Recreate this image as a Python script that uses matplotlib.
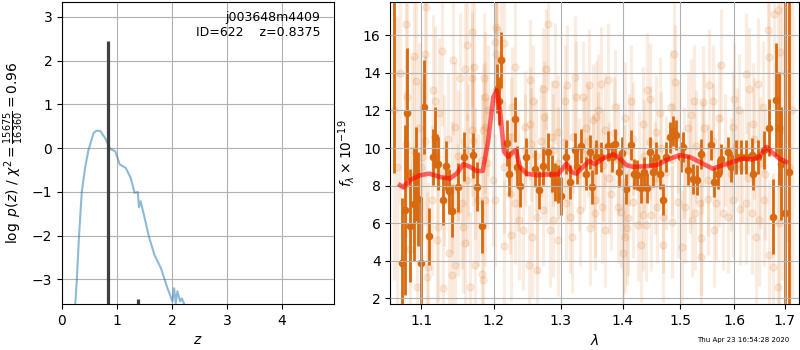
import matplotlib
matplotlib.use("Agg")
import matplotlib.pyplot as plt
from matplotlib.ticker import NullLocator

# p(z) curve
z_grid = [0.20, 0.24, 0.27, 0.31, 0.36, 0.42, 0.48, 0.575, 0.63, 0.70, 0.79, 0.88, 0.97,
          1.05, 1.16, 1.25, 1.32, 1.38, 1.40, 1.43, 1.49, 1.58, 1.68, 1.80, 1.92, 2.01,
          2.04, 2.07, 2.10, 2.15, 2.18, 2.23, 2.26]
logpz = [-4.5, -3.59, -3.0, -2.0, -1.0, -0.45, -0.05, 0.35, 0.40, 0.39, 0.22, -0.02, -0.07,
         -0.37, -0.45, -0.68, -1.02, -1.0, -1.35, -1.21, -1.52, -2.01, -2.43, -2.74, -3.2, -3.5,
         -3.2, -3.54, -3.27, -3.5, -3.43, -3.58, -3.8]

# stems in the p(z) panel
stem_z = [0.8375, 1.39]
stem_top = [2.45, -3.45]

# binned spectrum (dark points)
bin_wave = [1.0647, 1.0753, 1.0788, 1.0817, 1.0856, 1.0900, 1.0931, 1.0961, 1.0996, 1.1040,
            1.1103, 1.1152, 1.1183, 1.1227, 1.1294, 1.1330, 1.1371, 1.1408, 1.1490, 1.1577,
            1.1706, 1.1758, 1.1833, 1.2045, 1.2074, 1.2108, 1.2190, 1.2219, 1.2302, 1.2336,
            1.2386, 1.2476, 1.2603, 1.2668, 1.2730, 1.2806, 1.2858, 1.2909, 1.2960, 1.3006,
            1.3079, 1.3142, 1.3221, 1.3258, 1.3327, 1.3396, 1.3460, 1.3497, 1.3568, 1.3650,
            1.3758, 1.3824, 1.3880, 1.3940, 1.3997, 1.4064, 1.4136, 1.4192, 1.4250, 1.4306,
            1.4363, 1.4422, 1.4461, 1.4519, 1.4578, 1.4640, 1.4693, 1.4753, 1.4811, 1.4877,
            1.4930, 1.5007, 1.5048, 1.5138, 1.5229, 1.5309, 1.5383, 1.5568, 1.5630, 1.5692,
            1.5755, 1.5880, 1.5944, 1.6040, 1.6136, 1.6232, 1.6350, 1.6376, 1.6460, 1.6592,
            1.6692, 1.6758, 1.6826, 1.6893, 1.6927, 1.7015, 1.7096]
bin_flux = [20.0, 3.86, 6.70, 11.84, 5.86, 7.00, 8.60, 7.30, 3.90, 12.20,
            5.30, 9.53, 10.56, 9.17, 7.22, 9.05, 7.70, 6.64, 7.90, 9.53,
            9.62, 7.93, 5.84, 13.16, 12.50, 14.70, 10.27, 8.64, 11.53, 9.00,
            7.97, 9.53, 8.90, 7.76, 9.05, 9.80, 8.64, 8.20, 8.10, 7.44,
            9.53, 8.20, 9.88, 9.00, 10.11, 8.64, 9.80, 7.93, 9.53, 9.53,
            10.11, 9.53, 10.20, 8.73, 9.76, 7.81, 10.15, 8.64, 8.55, 7.85,
            8.73, 7.85, 9.80, 8.73, 9.53, 8.60, 7.26, 9.53, 10.56, 10.91,
            10.68, 9.53, 10.06, 8.82, 8.34, 8.29, 9.70, 10.15, 8.20, 8.64,
            9.44, 9.80, 9.00, 9.53, 9.53, 9.53, 9.62, 8.64, 9.53, 9.88,
            11.09, 6.34, 12.58, 11.04, 9.17, 6.52, 8.70]
bin_err = [11.35, 3.5, 4.5, 3.5, 3.0, 3.0, 2.5, 2.5, 3.5, 2.5,
           1.5, 1.5, 1.6, 1.4, 1.3, 1.3, 1.2, 1.4, 1.3, 1.3,
           1.2, 1.3, 1.4, 1.3, 1.3, 1.5, 1.2, 1.2, 1.2, 1.1,
           1.1, 1.0, 1.0, 1.0, 1.0, 1.0, 1.0, 1.0, 1.0, 1.0,
           0.9, 0.9, 0.9, 0.9, 0.9, 0.9, 0.9, 0.9, 0.9, 0.8,
           0.8, 0.8, 0.8, 0.8, 0.8, 0.8, 0.8, 0.8, 0.8, 0.8,
           0.8, 0.8, 0.8, 0.8, 0.8, 0.8, 0.8, 0.8, 0.8, 0.8,
           0.8, 0.8, 0.8, 0.8, 0.8, 0.8, 0.8, 0.8, 0.8, 0.8,
           0.8, 0.8, 0.8, 0.9, 0.9, 0.9, 0.9, 0.9, 0.9, 1.0,
           1.5, 2.0, 3.0, 3.0, 3.0, 12.0, 12.0]

# unbinned spectrum (faint points)
raw_wave = [1.0640, 1.0680, 1.0720, 1.0797, 1.1063, 1.0904, 1.0935, 1.1050, 1.1272, 1.1430,
            1.1623, 1.1692, 1.1720, 1.1591, 1.1522, 1.1695, 1.1872, 1.1862, 1.1152, 1.1183,
            1.0810, 1.0974, 1.1045, 1.1453, 1.1683, 1.1848, 1.1918, 1.1362, 1.0874, 1.1005,
            1.1637, 1.1614, 1.1729, 1.1499, 1.1227, 1.1568, 1.1596, 1.1366, 1.1408, 1.1094,
            1.1072, 1.1458, 1.1734, 1.1823, 1.1845, 1.0940, 1.1294, 1.1660, 1.0852, 1.0788,
            1.1205, 1.1413, 1.1545, 1.1777, 1.1868, 1.1138, 1.1828, 1.1878, 1.1232, 1.0800,
            1.1000, 1.1300, 1.1500, 1.1700, 1.1900,
            1.2025, 1.2045, 1.2012, 1.2144, 1.2035, 1.2108, 1.2302, 1.2806, 1.2528, 1.2730,
            1.2909, 1.2780, 1.3100, 1.3221, 1.3449, 1.3064, 1.3248, 1.3353, 1.2256, 1.2578,
            1.2453, 1.2535, 1.2737, 1.2858, 1.2960, 1.3407, 1.3514, 1.3568, 1.1986, 1.2018,
            1.2232, 1.2306, 1.2369, 1.2429, 1.2553, 1.2629, 1.2723, 1.2831, 1.2965, 1.3169,
            1.3142, 1.3300, 1.3460, 1.3541, 1.2150, 1.2242, 1.2520, 1.2635, 1.2882, 1.3090,
            1.2150, 1.2250, 1.2350, 1.2450, 1.2550, 1.2620, 1.2700, 1.2780, 1.2880, 1.2950,
            1.3050, 1.3120, 1.3200, 1.3280, 1.3360, 1.3430, 1.3520,
            1.3758, 1.3650, 1.4415, 1.4882, 1.4900, 1.4148, 1.4461, 1.4841, 1.3870, 1.5260,
            1.5412, 1.4036, 1.4346, 1.4635, 1.4578, 1.5138, 1.5200, 1.3704, 1.3597, 1.3548,
            1.3656, 1.3814, 1.3923, 1.3980, 1.4091, 1.4175, 1.4260, 1.4340, 1.4405, 1.4490,
            1.4585, 1.4693, 1.4700, 1.4847, 1.4959, 1.5030, 1.5079, 1.5206, 1.5266, 1.5371,
            1.3710, 1.4081, 1.4042, 1.4318, 1.4008,
            1.3600, 1.3680, 1.3770, 1.3850, 1.3920, 1.4020, 1.4100, 1.4180, 1.4280, 1.4370,
            1.4470, 1.4560, 1.4660, 1.4750, 1.4850, 1.4960, 1.5070, 1.5180, 1.5280, 1.5400,
            1.5755, 1.6232, 1.6658, 1.6859, 1.6792, 1.6913, 1.6692, 1.5536, 1.6008, 1.6297,
            1.6460, 1.5598, 1.6559, 1.6104, 1.5723, 1.5976, 1.6362, 1.5444, 1.5352, 1.5505,
            1.5660, 1.5786, 1.5880, 1.5982, 1.6110, 1.6238, 1.6356, 1.6493, 1.6592, 1.5383,
            1.5630, 1.6427, 1.6678, 1.6758, 1.6873, 1.6893,
            1.5500, 1.5610, 1.5720, 1.5830, 1.5940, 1.6050, 1.6160, 1.6270, 1.6380, 1.6500,
            1.6600, 1.6950, 1.7020, 1.7080, 1.7150]
raw_flux = [12.0, 9.0, 14.0, 16.6, 17.5, 14.9, 13.55, 15.0, 15.15, 14.67,
            15.47, 16.2, 14.3, 14.2, 13.7, 13.75, 12.7, 13.7, 13.07, 12.5,
            12.7, 11.07, 10.4, 11.1, 10.95, 10.95, 12.0, 10.5, 9.88, 9.53,
            9.88, 8.29, 8.64, 6.7, 5.8, 5.8, 4.92, 4.39, 3.23, 3.68,
            3.14, 3.77, 3.77, 3.32, 2.97, 2.6, 2.53, 2.6, 4.65, 8.02,
            5.1, 7.93, 7.05, 7.22, 7.22, 7.22, 9.35, 11.1, 11.84, 10.2,
            9.0, 8.8, 9.6, 10.4, 9.2,
            16.44, 16.27, 15.65, 15.6, 15.0, 14.76, 14.3, 16.6, 13.6, 13.16,
            13.43, 14.2, 13.34, 13.8, 13.34, 12.5, 12.7, 12.7, 12.2, 12.5,
            11.1, 11.3, 11.65, 10.6, 10.86, 11.04, 11.48, 11.65, 8.29, 7.22,
            7.58, 7.05, 6.16, 5.63, 5.27, 6.34, 6.7, 5.63, 5.13, 5.27,
            6.34, 6.7, 5.72, 6.52, 4.78, 5.36, 3.77, 3.5, 6.16, 7.05,
            9.0, 10.6, 8.8, 9.9, 10.2, 9.6, 10.4, 8.9, 9.9, 9.2,
            10.3, 9.0, 10.6, 8.6, 9.7, 10.4, 8.8,
            13.64, 13.43, 13.1, 14.99, 13.52, 12.5, 12.6, 12.2, 12.2, 12.5,
            12.45, 11.6, 11.3, 11.84, 10.86, 11.04, 11.75, 10.95, 12.0, 7.22,
            6.87, 7.58, 6.87, 6.6, 6.25, 7.13, 5.9, 6.43, 5.9, 6.43,
            6.87, 6.34, 4.83, 6.07, 7.13, 4.74, 6.87, 6.16, 6.52, 4.21,
            5.63, 5.72, 5.27, 4.83, 4.39,
            10.0, 9.1, 8.4, 10.8, 9.4, 8.2, 9.9, 10.5, 8.9, 9.6,
            10.3, 8.4, 10.0, 8.7, 9.4, 10.6, 9.2, 8.5, 10.1, 9.5,
            14.4, 13.96, 16.27, 17.33, 17.15, 15.1, 14.85, 13.34, 12.6, 13.16,
            13.43, 12.5, 12.2, 12.0, 11.6, 11.1, 11.3, 11.04, 7.05, 7.31,
            7.05, 6.52, 6.34, 7.22, 6.78, 7.05, 6.52, 6.16, 7.22, 5.19,
            5.63, 5.27, 4.3, 3.68, 2.6, 6.0,
            8.3, 10.4, 8.8, 9.9, 8.6, 10.2, 9.0, 8.4, 10.5, 9.2,
            8.6, 11.0, 14.0, 9.0, 12.0]
raw_err = [9.0, 8.0, 7.0, 5.0, 5.0, 5.0, 4.5, 4.5, 4.0, 4.0,
           4.0, 4.0, 4.0, 3.5, 3.5, 3.5, 3.5, 3.5, 4.0, 4.0,
           5.0, 4.5, 4.5, 3.5, 3.5, 3.5, 3.5, 3.5, 5.0, 4.5,
           3.5, 3.5, 3.5, 3.5, 4.0, 3.5, 3.5, 4.0, 4.0, 4.5,
           4.5, 4.0, 4.0, 4.0, 4.0, 5.0, 4.0, 4.0, 5.0, 5.0,
           4.0, 3.5, 3.5, 3.5, 3.5, 4.0, 3.5, 3.5, 4.0, 5.0,
           4.5, 4.0, 3.5, 3.5, 3.5,
           3.5, 3.5, 3.5, 3.5, 3.5, 3.5, 3.5, 3.5, 3.2, 3.2,
           3.2, 3.2, 3.2, 3.2, 3.0, 3.0, 3.0, 3.0, 3.2, 3.0,
           3.0, 3.0, 3.0, 3.0, 3.0, 3.0, 3.0, 3.0, 3.5, 3.5,
           3.2, 3.2, 3.2, 3.2, 3.2, 3.0, 3.0, 3.0, 3.0, 3.0,
           3.0, 3.0, 3.0, 3.0, 3.5, 3.5, 3.2, 3.2, 3.0, 3.0,
           3.5, 3.2, 3.2, 3.0, 3.0, 3.0, 3.0, 3.0, 3.0, 3.0,
           3.0, 3.0, 3.0, 3.0, 3.0, 3.0, 3.0,
           3.0, 3.0, 3.0, 3.0, 3.0, 3.0, 3.0, 3.0, 3.0, 3.0,
           3.0, 3.0, 3.0, 3.0, 3.0, 3.0, 3.0, 3.0, 3.0, 3.0,
           3.0, 3.0, 3.0, 3.0, 3.0, 3.0, 3.0, 3.0, 3.0, 3.0,
           3.0, 3.0, 3.0, 3.0, 3.0, 3.0, 3.0, 3.0, 3.0, 3.0,
           3.0, 3.0, 3.0, 3.0, 3.0,
           3.0, 3.0, 3.0, 3.0, 3.0, 3.0, 3.0, 3.0, 3.0, 3.0,
           3.0, 3.0, 3.0, 3.0, 3.0, 3.0, 3.0, 3.0, 3.0, 3.0,
           3.0, 3.2, 4.0, 6.0, 5.0, 6.0, 4.0, 3.0, 3.0, 3.2,
           3.5, 3.0, 3.5, 3.0, 3.0, 3.0, 3.2, 3.0, 3.0, 3.0,
           3.0, 3.0, 3.0, 3.0, 3.0, 3.2, 3.2, 3.5, 3.5, 3.0,
           3.0, 3.5, 4.0, 5.0, 6.0, 6.0,
           3.0, 3.0, 3.0, 3.0, 3.0, 3.0, 3.0, 3.0, 3.2, 3.5,
           3.5, 8.0, 9.0, 10.0, 10.0]

# best-fit model
model_wave = [1.0723, 1.0765, 1.0852, 1.0983, 1.1107, 1.1249, 1.1385, 1.1476, 1.1568, 1.1660,
              1.1754, 1.1839, 1.1919, 1.1991, 1.2040, 1.2087, 1.2146, 1.2209, 1.2282, 1.2321,
              1.2379, 1.2478, 1.2629, 1.2780, 1.2960, 1.3028, 1.3090, 1.3169, 1.3248, 1.3353,
              1.3449, 1.3541, 1.3677, 1.3841, 1.3923, 1.4064, 1.4175, 1.4405, 1.4578, 1.4753,
              1.4989, 1.5169, 1.5413, 1.5598, 1.5786, 1.5976, 1.6168, 1.6362, 1.6493, 1.6638,
              1.6758, 1.6893, 1.7029]
model_flux = [8.02, 7.90, 8.29, 8.55, 8.64, 8.46, 8.38, 8.64, 9.14, 9.00,
              8.78, 8.78, 10.41, 12.72, 13.07, 12.00, 9.80, 9.53, 9.80, 9.88,
              9.00, 8.64, 8.55, 8.59, 8.60, 8.90, 9.17, 8.73, 8.64, 9.00,
              9.31, 9.14, 9.44, 9.67, 9.53, 9.09, 9.00, 9.03, 9.09, 9.35,
              9.62, 9.53, 9.17, 8.90, 9.09, 9.26, 9.44, 9.39, 9.53, 10.06,
              9.74, 9.44, 9.26]

lam_ticks = [1.1, 1.2, 1.3, 1.4, 1.5, 1.6, 1.7]

fig = plt.figure(figsize=(8, 3.5), dpi=100)

# left panel: p(z)
ax1 = fig.add_axes([0.0775, 0.1314, 0.34, 0.8629])
ax1.plot(z_grid, logpz, color='C0', alpha=0.5, lw=1.5)
ax1.vlines(stem_z, -10, stem_top, color='0.25', lw=2.3)
ax1.set_xlim(0, 4.95)
ax1.set_ylim(-3.56, 3.34)
ax1.set_xticks([0, 1, 2, 3, 4])
ax1.set_yticks([-3, -2, -1, 0, 1, 2, 3])
ax1.grid(True)
ax1.set_xlabel(r'$z$')
ax1.set_ylabel(r'$\log\ p(z)$ / $\chi^2=\frac{15675}{16360}=0.96$')
ax1.text(0.95, 0.97, 'j003648m4409\nID=622    z=0.8375', ha='right', va='top',
         transform=ax1.transAxes, fontsize=9, linespacing=1.15)

# right panel: spectrum
ax2 = fig.add_axes([0.488, 0.1314, 0.511, 0.8629])
ax2.errorbar(raw_wave, raw_flux, raw_err, marker='o', linestyle='none', color='#dc6e14',
             alpha=0.13, ms=5, elinewidth=2.3, zorder=1)
ax2.errorbar(bin_wave, bin_flux, bin_err, marker='o', linestyle='none', color='#d9690f',
             ms=4.5, elinewidth=2, zorder=2)
ax2.plot(model_wave, model_flux, color='red', alpha=0.6, lw=3.3, zorder=3)
ax2.set_xscale('log')
ax2.set_xlim(1.060, 1.730)
ax2.set_ylim(1.70, 17.77)
ax2.set_xticks(lam_ticks)
ax2.set_xticklabels([str(t) for t in lam_ticks])
ax2.xaxis.set_minor_locator(NullLocator())
ax2.set_yticks([2, 4, 6, 8, 10, 12, 14, 16])
ax2.grid(True)
ax2.set_axisbelow(False)
ax2.set_xlabel(r'$\lambda$')
ax2.set_ylabel(r'$f_\lambda \times 10^{-19}$')

fig.text(0.987, 0.029, 'Thu Apr 23 16:54:28 2020', ha='right', va='center', fontsize=5)

fig.savefig('out.png', dpi=100)
